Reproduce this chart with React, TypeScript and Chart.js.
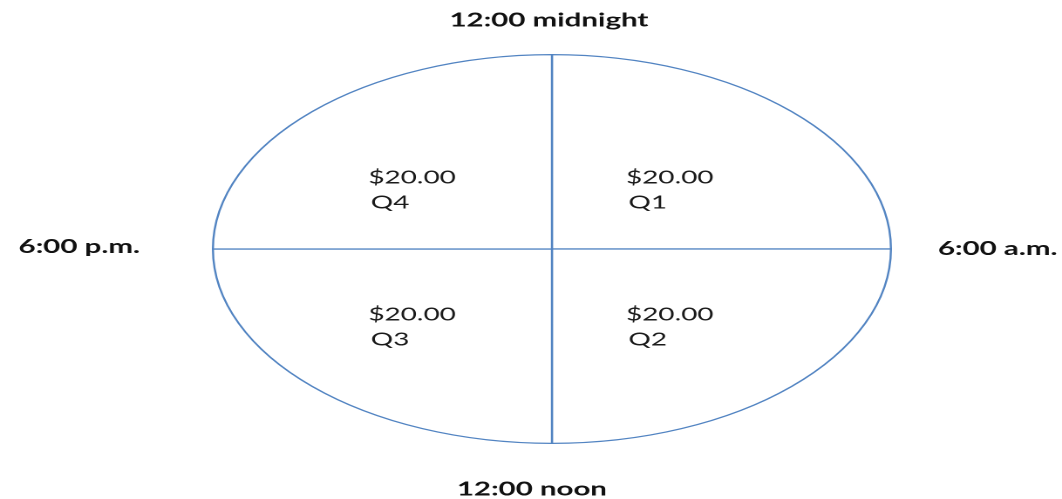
import React, { useEffect, useRef } from 'react';
import { Chart, registerables, ArcElement } from 'chart.js';

Chart.register(...registerables);

// data
const quarters = ['Q1', 'Q2', 'Q3', 'Q4'];
const amounts = [20, 20, 20, 20];
const clockLabels = ['12:00 midnight', '6:00 a.m.', '12:00 noon', '6:00 p.m.'];

// the reference picture is stretched sideways; the pie more than the text
const STRETCH = 1.744;
const TEXT_STRETCH = 1.55;
const INNER_W = Math.round(1062 / STRETCH);

const fmt = (v: number) => '$' + v.toFixed(2);

const labelPlugin = {
  id: 'quarterLabels',
  afterDraw(chart: Chart) {
    const ctx = chart.ctx;
    const meta = chart.getDatasetMeta(0);
    const first = meta.data[0] as ArcElement;
    if (!first) return;
    const { x: cx, y: cy, outerRadius: r } = first.getProps(['x', 'y', 'outerRadius'], true) as any;
    const k = TEXT_STRETCH / STRETCH;
    const px = (v: number) => v / STRETCH; // css px -> inner px, horizontal

    const put = (text: string, x: number, y: number, align: CanvasTextAlign) => {
      ctx.save();
      ctx.translate(x, y);
      ctx.scale(k, 1);
      ctx.textAlign = align;
      ctx.textBaseline = 'alphabetic';
      ctx.fillText(text, 0, 0);
      ctx.restore();
    };

    // slice labels, nudged a little away from the centre line
    ctx.fillStyle = '#1a1a1a';
    ctx.font = '18px Lato';
    meta.data.forEach((el, i) => {
      const p = (el as ArcElement).tooltipPosition(true);
      const side = p.x > cx ? 1 : -1;
      const x = p.x - px(11) + side * px(9);
      put(fmt(amounts[i]), x, p.y + 3, 'center');
      put(quarters[i], x - px(22), p.y + 28, 'center');
    });

    // clock labels around the dial
    ctx.fillStyle = '#111';
    ctx.font = 'bold 19px Lato';
    put(clockLabels[0], cx - px(3), cy - r - 28, 'center');
    put(clockLabels[1], cx + r + px(47), cy + 6, 'left');
    put(clockLabels[2], cx - px(20), cy + r + 52, 'center');
    put(clockLabels[3], cx - r - px(73), cy + 4, 'right');
  },
};

const App: React.FC = () => {
  const canvasRef = useRef<HTMLCanvasElement>(null);
  const chartRef = useRef<Chart | null>(null);

  useEffect(() => {
    if (!canvasRef.current) return;
    if (chartRef.current) chartRef.current.destroy();

    chartRef.current = new Chart(canvasRef.current, {
      type: 'pie',
      data: {
        labels: quarters,
        datasets: [
          {
            data: amounts,
            backgroundColor: '#ffffff',
            borderColor: '#5284c2',
            borderWidth: 1.2,
            borderAlign: 'center',
          },
        ],
      },
      options: {
        animation: false,
        responsive: true,
        maintainAspectRatio: false,
        devicePixelRatio: 2,
        layout: { padding: { top: 54, bottom: 55, left: 24, right: 0 } },
        plugins: {
          legend: { display: false },
          tooltip: { enabled: false },
        },
      },
      plugins: [labelPlugin],
    });

    return () => {
      if (chartRef.current) {
        chartRef.current.destroy();
        chartRef.current = null;
      }
    };
  }, []);

  return (
    <div style={{ position: 'fixed', left: 0, top: 0, width: 1062, height: 499, background: '#fff', overflow: 'hidden' }}>
      <div
        style={{
          width: INNER_W,
          height: 499,
          transform: `scaleX(${1062 / INNER_W})`,
          transformOrigin: 'left top',
        }}
      >
        <canvas ref={canvasRef}></canvas>
      </div>
    </div>
  );
};

export default App;
